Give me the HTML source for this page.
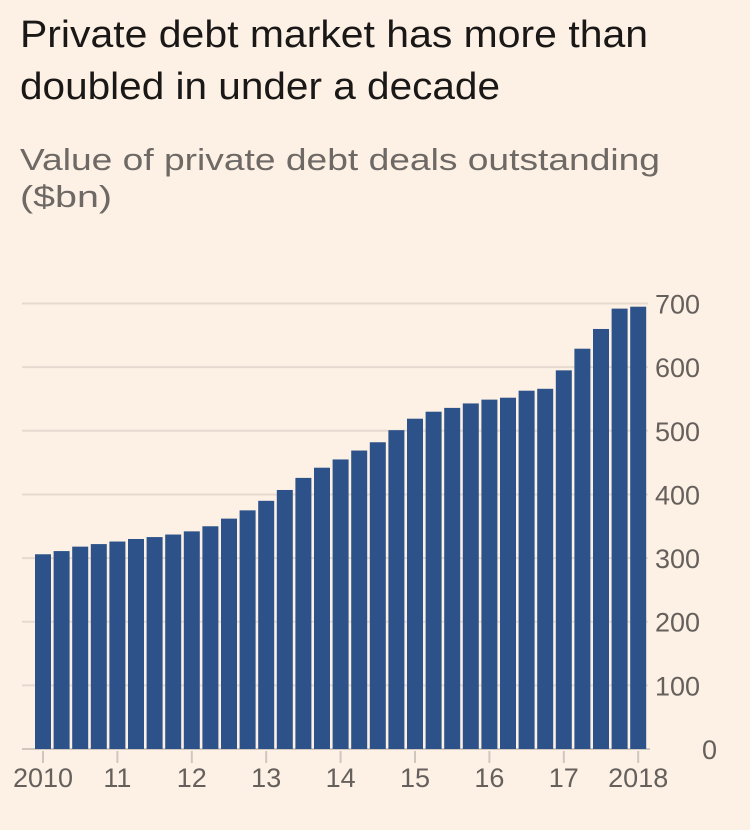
<!DOCTYPE html>
<html><head><meta charset="utf-8"><style>
html,body{margin:0;padding:0;background:#fdf1e6;}
svg{display:block;font-family:"Liberation Sans",sans-serif;}
</style></head><body>
<svg width="750" height="830" viewBox="0 0 750 830">
<rect width="750" height="830" fill="#fdf1e6"/>
<text x="20" y="47" font-size="38" fill="#1a1817" textLength="628" lengthAdjust="spacingAndGlyphs">Private debt market has more than</text>
<text x="20" y="99" font-size="38" fill="#1a1817" textLength="480" lengthAdjust="spacingAndGlyphs">doubled in under a decade</text>
<text x="20" y="170" font-size="31" fill="#6e6965" textLength="640" lengthAdjust="spacingAndGlyphs">Value of private debt deals outstanding</text>
<text x="20" y="207" font-size="31" fill="#6e6965" textLength="92" lengthAdjust="spacingAndGlyphs">($bn)</text>
<g id="grid"></g>
<g id="bars"></g>
<g id="xaxis"></g>
</svg>
<script>
const categories = [];
for (let y = 2010; y <= 2018; y++) for (let q = 1; q <= 4; q++) if (!(y === 2018 && q > 1)) categories.push(y + "Q" + q);
const values = [306,311,318,322,326,330,333,337,342,350,362,375,390,407,426,442,455,469,482,501,519,530,536,543,549,552,563,566,595,629,660,692,695];
const yTicks = [0,100,200,300,400,500,600,700];
const xTickLabels = ["2010","11","12","13","14","15","16","17","2018"];
const xTickCats = ["2010Q1","2011Q1","2012Q1","2013Q1","2014Q1","2015Q1","2016Q1","2017Q1","2018Q1"];

const NS = "http://www.w3.org/2000/svg";
const y0 = 749, pxPer = 0.6364;
const yScale = v => y0 - v * pxPer;
const x0 = 43, step = 18.6, bw = 16;
const xScale = c => x0 + categories.indexOf(c) * step;

const grid = document.getElementById("grid");
yTicks.forEach(t => {
  const l = document.createElementNS(NS, "line");
  l.setAttribute("x1", 22); l.setAttribute("x2", t === 0 ? 650 : 648);
  l.setAttribute("y1", yScale(t)); l.setAttribute("y2", yScale(t));
  l.setAttribute("stroke", t === 0 ? "#cfc6bd" : "#e6dad0");
  l.setAttribute("stroke-width", "2");
  
  
  grid.appendChild(l);
  const tx = document.createElementNS(NS, "text");
  tx.setAttribute("x", t === 0 ? 702 : 655);
  tx.setAttribute("y", yScale(t) + 10);
  tx.setAttribute("font-size", "27");
  tx.setAttribute("fill", "#66605c");
  tx.textContent = t;
  
  
  grid.appendChild(tx);
});

const bars = document.getElementById("bars");
values.forEach((v, i) => {
  const r = document.createElementNS(NS, "rect");
  const cx = xScale(categories[i]);
  r.setAttribute("x", cx - bw / 2);
  r.setAttribute("width", bw);
  r.setAttribute("y", yScale(v));
  r.setAttribute("height", yScale(0) - yScale(v));
  r.setAttribute("fill", "#2d5289");
  
  
  bars.appendChild(r);
});

const xa = document.getElementById("xaxis");
xTickCats.forEach((c, i) => {
  const x = xScale(c);
  const l = document.createElementNS(NS, "line");
  l.setAttribute("x1", x); l.setAttribute("x2", x);
  l.setAttribute("y1", 751); l.setAttribute("y2", 763);
  l.setAttribute("stroke", "#cfc6bd"); l.setAttribute("stroke-width", "2");
  
  
  xa.appendChild(l);
  const tx = document.createElementNS(NS, "text");
  tx.setAttribute("x", x);
  tx.setAttribute("y", 787);
  tx.setAttribute("font-size", "27");
  tx.setAttribute("fill", "#66605c");
  tx.setAttribute("text-anchor", "middle");
  tx.textContent = xTickLabels[i];
  
  
  xa.appendChild(tx);
});
</script>
</body></html>
